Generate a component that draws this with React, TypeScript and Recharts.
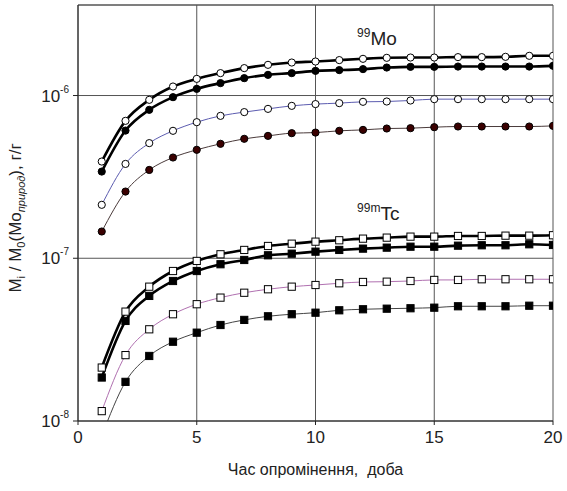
import React from "react";
import {
  LineChart,
  Line,
  XAxis,
  YAxis,
  CartesianGrid,
  ReferenceLine,
  ReferenceDot,
} from "recharts";

const DAYS = [1, 2, 3, 4, 5, 6, 7, 8, 9, 10, 11, 12, 13, 14, 15, 16, 17, 18, 19, 20];

const MO_A = [3.93e-7, 6.99e-7, 9.41e-7, 1.136e-6, 1.266e-6, 1.373e-6, 1.474e-6, 1.544e-6, 1.595e-6, 1.618e-6, 1.651e-6, 1.681e-6, 1.705e-6, 1.712e-6, 1.712e-6, 1.722e-6, 1.722e-6, 1.729e-6, 1.754e-6, 1.754e-6];
const MO_B = [3.41e-7, 6.09e-7, 8.17e-7, 9.77e-7, 1.099e-6, 1.192e-6, 1.279e-6, 1.34e-6, 1.373e-6, 1.418e-6, 1.433e-6, 1.453e-6, 1.486e-6, 1.501e-6, 1.501e-6, 1.507e-6, 1.507e-6, 1.507e-6, 1.507e-6, 1.522e-6];
const MO_C = [2.13e-7, 3.8e-7, 5.1e-7, 6.07e-7, 6.86e-7, 7.5e-7, 7.91e-7, 8.28e-7, 8.64e-7, 8.86e-7, 8.98e-7, 9.15e-7, 9.19e-7, 9.32e-7, 9.5e-7, 9.5e-7, 9.5e-7, 9.5e-7, 9.5e-7, 9.5e-7];
const MO_D = [1.46e-7, 2.57e-7, 3.49e-7, 4.16e-7, 4.64e-7, 5.05e-7, 5.42e-7, 5.65e-7, 5.87e-7, 5.92e-7, 6.07e-7, 6.15e-7, 6.27e-7, 6.3e-7, 6.39e-7, 6.45e-7, 6.45e-7, 6.45e-7, 6.45e-7, 6.51e-7];

const TC_A = [2.13e-8, 4.7e-8, 6.69e-8, 8.35e-8, 9.63e-8, 1.058e-7, 1.125e-7, 1.19e-7, 1.229e-7, 1.265e-7, 1.29e-7, 1.32e-7, 1.339e-7, 1.358e-7, 1.358e-7, 1.371e-7, 1.371e-7, 1.377e-7, 1.377e-7, 1.385e-7];
const TC_B = [1.85e-8, 4.12e-8, 5.87e-8, 7.25e-8, 8.35e-8, 9.19e-8, 9.76e-8, 1.043e-7, 1.067e-7, 1.098e-7, 1.125e-7, 1.146e-7, 1.162e-7, 1.178e-7, 1.178e-7, 1.195e-7, 1.202e-7, 1.202e-7, 1.219e-7, 1.207e-7];
const TC_C = [1.15e-8, 2.54e-8, 3.66e-8, 4.53e-8, 5.22e-8, 5.73e-8, 6.14e-8, 6.45e-8, 6.69e-8, 6.85e-8, 7.02e-8, 7.15e-8, 7.18e-8, 7.25e-8, 7.36e-8, 7.36e-8, 7.43e-8, 7.43e-8, 7.43e-8, 7.43e-8];
const TC_D = [8.1e-9, 1.74e-8, 2.51e-8, 3.07e-8, 3.49e-8, 3.89e-8, 4.18e-8, 4.4e-8, 4.53e-8, 4.63e-8, 4.79e-8, 4.86e-8, 4.9e-8, 4.93e-8, 4.97e-8, 5.07e-8, 5.07e-8, 5.07e-8, 5.11e-8, 5.11e-8];

const X_TICKS = [0, 5, 10, 15, 20];
const Y_TICKS = [1e-8, 1e-7, 1e-6];
const Y_TOP = 3.6e-6;

const FONT = "'Liberation Sans', Arial, sans-serif";

const chartData = DAYS.map((d, i) => ({
  day: d,
  moA: MO_A[i],
  moB: MO_B[i],
  moC: MO_C[i],
  moD: MO_D[i],
  tcA: TC_A[i],
  tcB: TC_B[i],
  tcC: TC_C[i],
  tcD: TC_D[i],
}));

function circleDot(fill: string, stroke: string) {
  return (p: any) => {
    if (p.cx == null || p.cy == null) return <g key={p.key} />;
    return <circle key={p.key} cx={p.cx} cy={p.cy} r={3.6} fill={fill} stroke={stroke} strokeWidth={1} />;
  };
}

function squareDot(fill: string) {
  return (p: any) => {
    if (p.cx == null || p.cy == null) return <g key={p.key} />;
    return <rect key={p.key} x={p.cx - 3.6} y={p.cy - 3.6} width={7.2} height={7.2} fill={fill} stroke="#000" strokeWidth={1} />;
  };
}

const SERIES = [
  { key: "moA", stroke: "#000", width: 2.6, dot: circleDot("#fff", "#000") },
  { key: "moB", stroke: "#000", width: 2.6, dot: circleDot("#000", "#000") },
  { key: "moC", stroke: "#5c5cb0", width: 1, dot: circleDot("#fff", "#000") },
  { key: "moD", stroke: "#4a3a3a", width: 1, dot: circleDot("#3a0000", "#000") },
  { key: "tcA", stroke: "#000", width: 2.6, dot: squareDot("#fff") },
  { key: "tcB", stroke: "#000", width: 2.6, dot: squareDot("#000") },
  { key: "tcC", stroke: "#b070b0", width: 1, dot: squareDot("#fff") },
  { key: "tcD", stroke: "#444", width: 1, dot: squareDot("#000") },
];

function XTick(props: any) {
  const { x, y, payload } = props;
  return (
    <text x={x} y={y + 16} textAnchor="middle" fontFamily={FONT} fontSize={17} fill="#222">
      {payload.value}
    </text>
  );
}

function YTick(props: any) {
  const { x, y, payload } = props;
  const exp = Math.round(Math.log10(payload.value));
  return (
    <text x={x - 2} y={y + 6} textAnchor="end" fontFamily={FONT} fill="#222">
      <tspan fontSize={17}>10</tspan>
      <tspan fontSize={10} dy={-9}>{exp}</tspan>
    </text>
  );
}

function YTitle(props: any) {
  const vb = props.viewBox || { x: 0, y: 0, height: 0 };
  const cx = 21;
  const cy = vb.y + vb.height / 2 + 5;
  return (
    <text
      x={cx}
      y={cy}
      transform={`rotate(-90 ${cx} ${cy})`}
      textAnchor="middle"
      fontFamily={FONT}
      fontSize={17}
      fill="#222"
    >
      <tspan>M</tspan>
      <tspan fontSize={11} dy={4}>i</tspan>
      <tspan dy={-4}> / M</tspan>
      <tspan fontSize={11} dy={4}>0</tspan>
      <tspan dy={-4}>(Mo</tspan>
      <tspan fontSize={11} dy={4} fontStyle="italic">природ</tspan>
      <tspan dy={-4}>), г/г</tspan>
    </text>
  );
}

function IsoLabel({ viewBox, mass, name }: any) {
  const x = viewBox ? viewBox.x : 0;
  const y = viewBox ? viewBox.y : 0;
  return (
    <text x={x} y={y} fontFamily={FONT} fill="#222">
      <tspan fontSize={12} dy={-8}>{mass}</tspan>
      <tspan fontSize={19} dy={8}>{name}</tspan>
    </text>
  );
}

export default function App() {
  return (
    <div style={{ position: "absolute", left: 0, top: 0, background: "#fff" }}>
      <LineChart
        width={567}
        height={491}
        data={chartData}
        margin={{ top: 5, right: 14, left: 0, bottom: 0 }}
      >
        <CartesianGrid stroke="#555" strokeWidth={1} />
        <XAxis
          dataKey="day"
          type="number"
          domain={[0, 20]}
          ticks={X_TICKS}
          interval={0}
          height={70}
          tickSize={4}
          stroke="#222"
          tick={<XTick />}
          label={{
            value: "Час опромінення,\u00A0\u00A0доба",
            position: "insideBottom",
            offset: 16,
            fontSize: 16,
            fill: "#222",
            fontFamily: FONT,
          }}
          allowDataOverflow
        />
        <YAxis
          scale="log"
          domain={[1e-8, Y_TOP]}
          ticks={Y_TICKS}
          interval={0}
          width={78}
          tickSize={5}
          stroke="#222"
          tick={<YTick />}
          label={<YTitle />}
          allowDataOverflow
        />
        <ReferenceLine y={Y_TOP} stroke="#555" strokeWidth={1} />
        {SERIES.map((s) => (
          <Line
            key={s.key}
            type="monotone"
            dataKey={s.key}
            stroke={s.stroke}
            strokeWidth={s.width}
            dot={s.dot}
            activeDot={false}
            isAnimationActive={false}
          />
        ))}
        <ReferenceDot x={11.75} y={2.05e-6} r={0} fill="none" stroke="none" label={<IsoLabel mass="99" name="Mo" />} />
        <ReferenceDot x={11.75} y={1.72e-7} r={0} fill="none" stroke="none" label={<IsoLabel mass="99m" name="Tc" />} />
      </LineChart>
    </div>
  );
}
